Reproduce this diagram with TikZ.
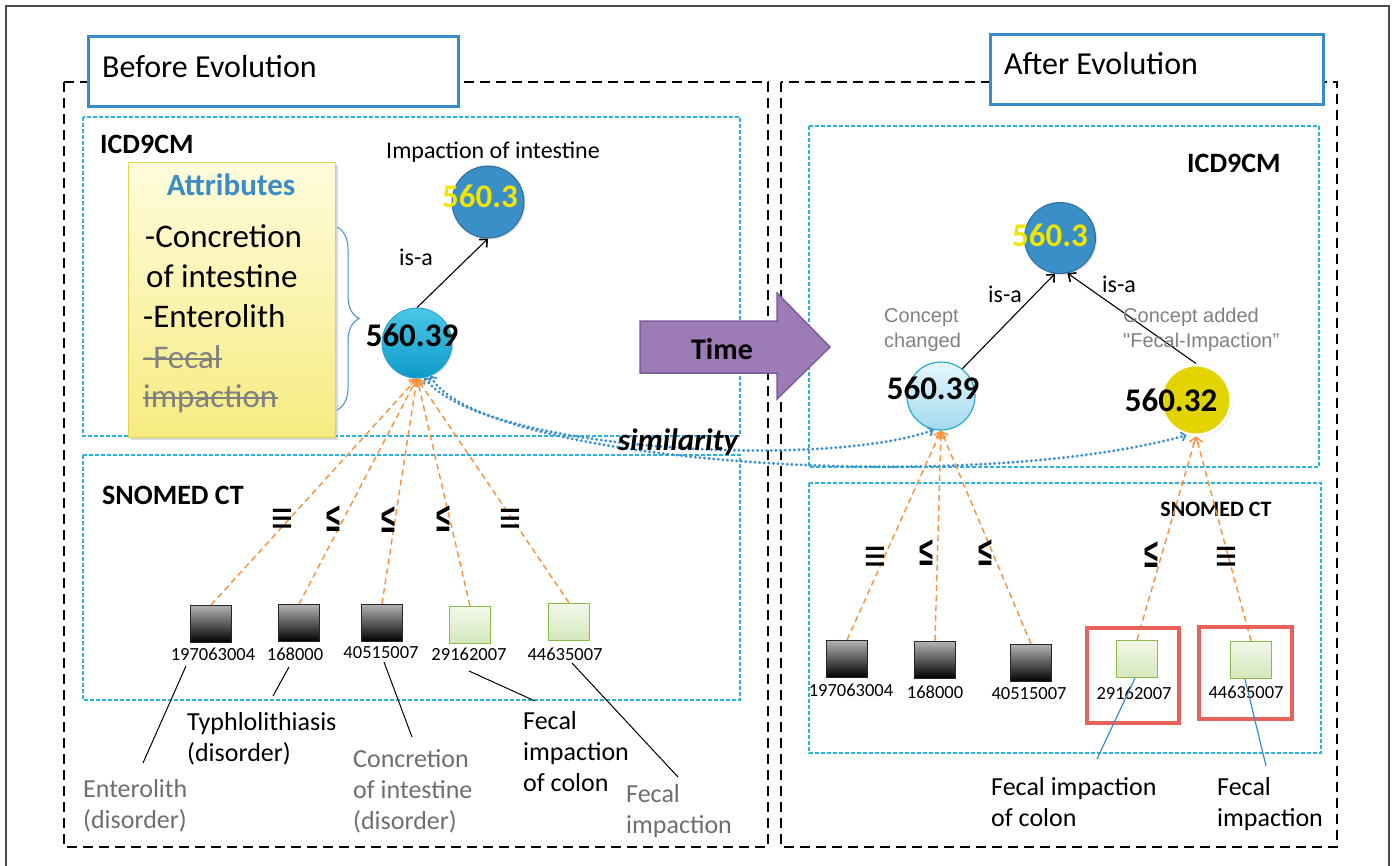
\documentclass[tikz,border=0pt]{standalone}
\usepackage{fontspec}
\setmainfont{Carlito}
\newfontfamily\arialf{Liberation Sans}
\usetikzlibrary{arrows.meta,decorations.pathreplacing,shadows}
\definecolor{frameblue}{HTML}{3A8CC8}
\definecolor{cyanbox}{HTML}{2BB3DF}
\definecolor{orangeA}{HTML}{F7913D}
\definecolor{simblue}{HTML}{3A8FD0}
\definecolor{darkblue}{HTML}{3A8FC9}
\definecolor{darkblueedge}{HTML}{2B6E9E}
\definecolor{greyT}{HTML}{6E6E6E}
\definecolor{purpleF}{HTML}{9D7CB6}
\definecolor{purpleE}{HTML}{7B5C9C}
\definecolor{redbox}{HTML}{E8625A}
\definecolor{yelT}{HTML}{F2E500}
\definecolor{yelC}{HTML}{E2D400}
\definecolor{cyanTop}{HTML}{4CC6E8}
\definecolor{cyanBot}{HTML}{0E9BC8}
\definecolor{cyanEdge}{HTML}{1B9CC4}
\definecolor{lcTop}{HTML}{E6F6FC}
\definecolor{lcBot}{HTML}{A3DAEF}
\definecolor{lcEdge}{HTML}{2AA9CF}
\definecolor{grTop}{HTML}{F2F7EA}
\definecolor{grBot}{HTML}{D3E7BA}
\definecolor{grEdge}{HTML}{8CBB4C}
\definecolor{ylTop}{HTML}{FFFCDD}
\definecolor{ylBot}{HTML}{F6EB80}
\definecolor{ylEdge}{HTML}{E3D34E}
\newcommand\fsz[2]{\fontsize{#1}{#2}\selectfont}
\newcommand\relLeq{\scalebox{0.85}[1.35]{≤}}
\newcommand\relEqv{\scalebox{1.25}[1.5]{≡}}
\begin{document}
\begin{tikzpicture}[x=1pt,y=-1pt,
  titlebox/.style={draw=frameblue, line width=3pt, fill=white, inner sep=0pt},
  bigdash/.style={draw=black, line width=2.6pt, dash pattern=on 10pt off 6pt},
  ontobox/.style={draw=cyanbox, line width=1.3pt, dash pattern=on 4pt off 2pt},
  circdark/.style={circle, inner sep=0pt, minimum size=72pt, fill=darkblue, draw=darkblueedge, line width=1pt,
     drop shadow={opacity=0.25, shadow xshift=1.5pt, shadow yshift=-1.5pt}},
  circcyan/.style={circle, inner sep=0pt, minimum size=70pt, top color=cyanTop, bottom color=cyanBot, draw=cyanEdge, line width=0.8pt,
     drop shadow={opacity=0.25, shadow xshift=1.5pt, shadow yshift=-1.5pt}},
  circlight/.style={circle, inner sep=0pt, minimum size=68pt, top color=lcTop, bottom color=lcBot, draw=lcEdge, line width=1.2pt},
  circyel/.style={circle, inner sep=0pt, minimum size=70pt, fill=yelC, draw=white, line width=3pt,
     drop shadow={opacity=0.3, shadow xshift=1.5pt, shadow yshift=-1.5pt}},
  numlab/.style={font=\fsz{33}{38}\bfseries, inner sep=0pt},
  yellab/.style={font=\fsz{33}{38}\bfseries, text=yelT, inner sep=0pt},
  blksq/.style={rectangle, minimum width=41pt, minimum height=37pt, inner sep=0pt, top color=black!30, bottom color=black, draw=black!85, line width=1pt},
  grnsq/.style={rectangle, minimum width=41pt, minimum height=37pt, inner sep=0pt, top color=grTop, bottom color=grBot, draw=grEdge, line width=1.3pt},
  idlab/.style={font=\fsz{18.5}{22}, inner sep=0pt},
  rel/.style={font=\arialf\bfseries\fsz{30}{34}, inner sep=0pt},
  oarr/.style={draw=orangeA, line width=1.4pt, dash pattern=on 6pt off 4pt, -{Straight Barb[length=6pt,width=10pt,line width=1.4pt]}},
  isa/.style={draw=black, line width=1.1pt, -{Straight Barb[length=6pt,width=11pt,line width=1.6pt]}},
  simarr/.style={draw=simblue, line width=3.2pt, line cap=round, dash pattern=on 0.01pt off 4.6pt,
     {Straight Barb[length=4pt,width=9pt,line width=1.8pt]}-{Straight Barb[length=4pt,width=9pt,line width=1.8pt]}},
  callout/.style={draw=black, line width=1pt},
  bcallout/.style={draw=frameblue, line width=1.2pt},
  ltext/.style={font=\fsz{26}{31}, align=left, inner sep=0pt, anchor=base west},
  redbx/.style={draw=redbox, line width=3.5pt, inner sep=0pt},
  strike/.style={draw=black!50, line width=1.3pt}
]
\useasboundingbox (0,0) rectangle (1395,865);
% outer frame
\draw[draw=black!70, line width=1.5pt] (6,866) -- (6,6) -- (1389,6) -- (1389,866);
% big dashed panels
\draw[bigdash] (64,82) rectangle (768,847);
\draw[bigdash] (781,82) rectangle (1337,847);
% ontology boxes
\draw[ontobox] (83,117) rectangle (740,436);
\draw[ontobox] (83,455) rectangle (740,700);
\draw[ontobox] (809,126) rectangle (1319,467);
\draw[ontobox] (809,483) rectangle (1321,753);
% title boxes
\node[titlebox, minimum width=370pt, minimum height=70pt, anchor=north west] (before) at (87,35) {};
\node[font=\fsz{32}{38}, anchor=base west, inner sep=0pt] (beforet) at (102,77) {Before Evolution};
\node[titlebox, minimum width=333pt, minimum height=70pt, anchor=north west] (after) at (989,33) {};
\node[font=\fsz{32}{38}, anchor=base west, inner sep=0pt] (aftert) at (1004,74) {After Evolution};
% ICD labels
\node[font=\fsz{28}{32}\bfseries, anchor=base west, inner sep=0pt] (icdl) at (100,153) {ICD9CM};
\node[font=\fsz{28}{32}\bfseries, anchor=base west, inner sep=0pt] (icdr) at (1187,172) {ICD9CM};
\node[font=\fsz{28}{32}\bfseries, inner sep=0pt] (snol) at (173,495) {SNOMED CT};
\node[font=\fsz{22}{26}\bfseries, inner sep=0pt] (snor) at (1216,509) {SNOMED CT};
% attributes box
\node[rectangle, minimum width=207pt, minimum height=275pt, anchor=north west, inner sep=0pt,
  top color=ylTop, bottom color=ylBot, draw=ylEdge, line width=1.2pt,
  drop shadow={opacity=0.3, shadow xshift=2pt, shadow yshift=-2pt}] (attr) at (128,162) {};
\node[font=\fsz{31}{36}\bfseries, text=frameblue, anchor=base, inner sep=0pt] (attrt) at (231,195) {Attributes};
\node[font=\fsz{33}{40}, anchor=base west, inner sep=0pt] (a1) at (145,247) {-Concretion};
\node[font=\fsz{33}{40}, anchor=base west, inner sep=0pt] (a2) at (146,287) {of intestine};
\node[font=\fsz{33}{40}, anchor=base west, inner sep=0pt] (a3) at (143,327) {-Enterolith};
\node[font=\fsz{33}{40}, anchor=base west, inner sep=0pt, text=black!50] (a4) at (143,368) {-Fecal};
\node[font=\fsz{33}{40}, anchor=base west, inner sep=0pt, text=black!50] (a5) at (143,407) {impaction};
\draw[strike] ([yshift=9pt]a4.base west) -- ([yshift=9pt]a4.base east);
\draw[strike] ([yshift=9pt]a5.base west) -- ([yshift=9pt]a5.base east);
\coordinate (br1) at (337,227);
\coordinate (br2) at (337,410);
\draw[simblue, line width=1pt, decorate, decoration={brace, amplitude=22pt}] (br1) -- (br2);
% similarity curves
\node[circcyan] (c39l) at (417,343) {};
\node[circlight] (c39r) at (941,396) {};
\node[circyel] (c32) at (1196,400) {};
\draw[simarr] (c39l.282) .. controls (480,450) and (820,470) .. (c39r.258);
\draw[simarr] (c39l.292) .. controls (480,462) and (960,497) .. (c32.255);
\node[font=\fsz{31}{36}\bfseries\itshape, anchor=base, inner sep=0pt] (sim) at (678,450) {similarity};
% left nodes
\node[circdark] (c3l) at (488,202) {};
\node[yellab] (c3lt) at (480,196) {560.3};
\node[numlab] (c39lt) at (412,335) {560.39};
\node[font=\fsz{24}{28}, anchor=base, inner sep=0pt] (imp) at (493,158) {Impaction of intestine};
\draw[isa] (c39l.north) -- (c3l.south);
\node[font=\fsz{24}{28}, anchor=base, inner sep=0pt] (isal) at (416,265) {is-a};
% left squares
\node[blksq] (s1l) at (211,624) {};
\node[blksq] (s2l) at (299,623) {};
\node[blksq] (s3l) at (382,623) {};
\node[grnsq] (s4l) at (470,625) {};
\node[grnsq] (s5l) at (569,622) {};
\node[idlab] (n1l) at (213,654) {197063004};
\node[idlab] (n2l) at (295,654) {168000};
\node[idlab] (n3l) at (381,653) {40515007};
\node[idlab] (n4l) at (469,654) {29162007};
\node[idlab] (n5l) at (565,654) {44635007};
\foreach \s in {s1l,s2l,s3l,s4l,s5l} \draw[oarr] (\s.north) -- (c39l.south);
\node[rel] (r1l) at (282,521) {\relEqv};
\node[rel] (r2l) at (333,519) {\relLeq};
\node[rel] (r3l) at (388,520) {\relLeq};
\node[rel] (r4l) at (443,519) {\relLeq};
\node[rel] (r5l) at (510,521) {\relEqv};
% left callouts
\node[ltext, text=greyT] (t1l) at (83,828) {Enterolith\\(disorder)};
\node[ltext] (t2l) at (187,761) {Typhlolithiasis\\(disorder)};
\node[ltext, text=greyT] (t3l) at (353,829) {Concretion\\of intestine\\(disorder)};
\node[ltext] (t4l) at (523,791) {Fecal\\impaction\\of colon};
\node[ltext, text=greyT] (t5l) at (626,833) {Fecal\\impaction};
\coordinate (k1a) at (186,666); \coordinate (k1b) at (143,763);
\coordinate (k2a) at (289,667); \coordinate (k2b) at (273,696);
\coordinate (k3a) at (384,662); \coordinate (k3b) at (412,737);
\coordinate (k4a) at (469,671); \coordinate (k4b) at (535,701);
\coordinate (k5a) at (572,663); \coordinate (k5b) at (678,777);
\foreach \i in {1,...,5} \draw[callout] (k\i a) -- (k\i b);
% right nodes
\node[circdark, minimum size=71pt] (c3r) at (1060,238) {};
\node[yellab] (c3rt) at (1050,235) {560.3};
\node[numlab] (c39rt) at (933,388) {560.39};
\node[numlab] (c32t) at (1171,400) {560.32};
\draw[isa] (c39r.52) -- (c3r.262);
\draw[isa] (c32.north) -- (c3r.282);
\node[font=\fsz{24}{28}, anchor=base, inner sep=0pt] (isar1) at (1005,302) {is-a};
\node[font=\fsz{24}{28}, anchor=base, inner sep=0pt] (isar2) at (1119,292) {is-a};
\node[font=\arialf\fsz{20}{25}, text=black!50, align=left, anchor=base west, inner sep=0pt] (cc) at (884,347) {Concept\\changed};
\node[font=\arialf\fsz{20}{25}, text=black!50, align=left, anchor=base west, inner sep=0pt] (ca) at (1123,347) {Concept added\\"Fecal-Impaction”};
% right squares
\node[blksq] (s1r) at (847,659) {};
\node[blksq] (s2r) at (935,660) {};
\node[blksq] (s3r) at (1031,663) {};
\node[grnsq] (s4r) at (1137,659) {};
\node[grnsq] (s5r) at (1251,660) {};
\node[idlab] (n1r) at (851,690) {197063004};
\node[idlab] (n2r) at (935,692) {168000};
\node[idlab] (n3r) at (1029,694) {40515007};
\node[idlab] (n4r) at (1134,693) {29162007};
\node[idlab] (n5r) at (1246,692) {44635007};
\foreach \s in {s1r,s2r,s3r} \draw[oarr] (\s.north) -- (c39r.south);
\foreach \s in {s4r,s5r} \draw[oarr] (\s.north) -- (c32.south);
\node[rel] (r1r) at (875,559) {\relEqv};
\node[rel] (r2r) at (926,553) {\relLeq};
\node[rel] (r3r) at (985,553) {\relLeq};
\node[rel] (r4r) at (1151,555) {\relLeq};
\node[rel] (r5r) at (1226,559) {\relEqv};
\node[redbx, minimum width=92pt, minimum height=95pt] (rb1) at (1133,675.5) {};
\node[redbx, minimum width=93pt, minimum height=92pt] (rb2) at (1245.5,673) {};
\node[ltext] (t4r) at (991,826) {Fecal impaction\\of colon};
\node[ltext] (t5r) at (1217,826) {Fecal\\impaction};
\coordinate (m4b) at (1097,759);
\coordinate (m5b) at (1266,766);
\draw[bcallout] ([xshift=-2pt]s4r.south) -- (m4b);
\draw[bcallout] ([xshift=-6pt]s5r.south) -- (m5b);
% time arrow
\draw[fill=purpleF, draw=purpleE, line width=1.5pt] (640,321) -- (777,321) -- (777,293) -- (830,347) -- (777,399) -- (777,373) -- (640,373) -- cycle;
\node[font=\fsz{30}{34}\bfseries, inner sep=0pt] (time) at (722,349) {Time};
\end{tikzpicture}
\end{document}
